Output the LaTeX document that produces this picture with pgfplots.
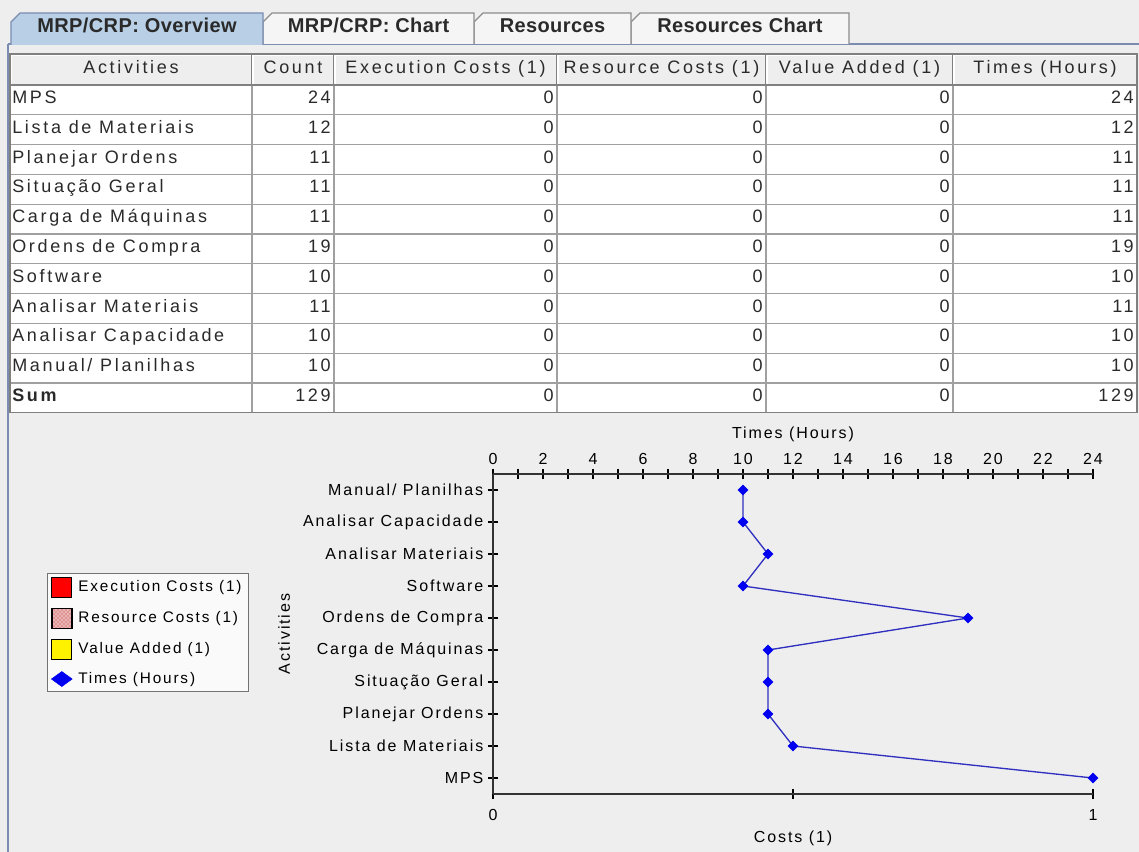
\documentclass[border=0pt]{standalone}
\usepackage{fontspec}
\setmainfont{Liberation Sans}
\newfontfamily\chartfont[LetterSpace=12]{Liberation Sans}
\newfontfamily\tablefont[LetterSpace=15]{Liberation Sans}
\newfontfamily\tabfont[LetterSpace=2]{Liberation Sans}
\usepackage{pgfplots}
\pgfplotsset{compat=1.18}
\usetikzlibrary{patterns}
\definecolor{panel}{HTML}{EEEEEE}
\definecolor{seltab}{HTML}{B8CFE5}
\definecolor{selborder}{HTML}{7A8DB0}
\definecolor{tabborder}{HTML}{8C8C8C}
\definecolor{gridc}{HTML}{A0A0A0}
\definecolor{hdrdark}{HTML}{808080}
\definecolor{linecol}{HTML}{3030C0}
\definecolor{markcol}{HTML}{0000F0}
\definecolor{txt}{HTML}{2A2A2A}
\definecolor{respink}{RGB}{235,180,180}
\definecolor{resdot}{RGB}{190,50,50}
\newcommand\cf{\chartfont\fontsize{12pt}{14pt}\selectfont}
\newcommand\lf{\chartfont\fontsize{11.5pt}{13pt}\selectfont}
\newcommand\tf{\tablefont\fontsize{13.5pt}{15pt}\selectfont}
\newcommand\tabf{\tabfont\bfseries\fontsize{15pt}{17pt}\selectfont}
\newcommand\manual{Manual/ Planilhas}
\pgfplotsset{
  legexec/.style={legend image code/.code={\draw[fill=red, draw=black, line width=0.8pt] (0pt,-7.5pt) rectangle (15pt,7.5pt);}},
  legres/.style={legend image code/.code={\fill[respink] (0pt,-7.5pt) rectangle (15pt,7.5pt); \fill[pattern=crosshatch dots, pattern color=resdot] (0pt,-7.5pt) rectangle (15pt,7.5pt); \draw[black, line width=0.8pt] (0pt,-7.5pt) rectangle (15pt,7.5pt);}},
  legval/.style={legend image code/.code={\draw[fill=yellow, draw=black, line width=0.8pt] (0pt,-7.5pt) rectangle (15pt,7.5pt);}},
  legtime/.style={legend image code/.code={\draw[markcol, mark=diamond*, mark size=5.6pt, mark options={xscale=1.85, fill=markcol}] plot coordinates {(7.5pt,0pt)};}},
}
\begin{document}
\begin{tikzpicture}
\begin{scope}[x=0.75pt,y=-0.75pt]
\fill[panel] (0,0) rectangle (1139,852);
% content border
\draw[selborder, line width=1.5pt] (8,44) -- (1139,44);
\draw[selborder, line width=1.5pt] (8,44) -- (8,852);
% tabs (unselected)
\foreach \xa/\xb in {631/849, 474/631, 263/474}{
  \filldraw[fill=white!96!black, draw=tabborder, line width=0.8pt] (\xa,44) -- (\xa,22) -- (\xa+9,13) -- (\xb,13) -- (\xb,44);
}
% selected tab
\filldraw[fill=seltab, draw=selborder, line width=1pt] (11,45) -- (11,22) -- (20,13) -- (263,13) -- (263,45);
\node[font=\tabf, text=txt, anchor=mid] at (137,29) {MRP/CRP: Overview};
\node[font=\tabf, text=txt, anchor=mid] at (368.5,29) {MRP/CRP: Chart};
\node[font=\tabf, text=txt, anchor=mid] at (552.5,29) {Resources};
\node[font=\tabf, text=txt, anchor=mid] at (740,29) {Resources Chart};
% table
\fill[white] (10,85) rectangle (1137,412.8);
\fill[panel] (10,54) rectangle (1137,85);
\foreach \i in {1,...,10} \draw[gridc, line width=0.8pt] (10,85+\i*29.8) -- (1137,85+\i*29.8);
\foreach \x in {252,334,557,766,953} \draw[gridc, line width=0.8pt] (\x,85) -- (\x,412.8);
% header cell borders
\foreach \xa/\xb in {10/252,252/334,334/557,557/766,766/953,953/1137}{
  \draw[white, line width=0.8pt] (\xa+1,84) -- (\xa+1,55) -- (\xb-1,55);
  \draw[hdrdark, line width=0.8pt] (\xa,85) -- (\xb,85) (\xb,54) -- (\xb,85);
}
\draw[hdrdark, line width=0.8pt] (10,54) rectangle (1137,412.8);
\node[font=\tf, text=txt, anchor=mid] at (131,69.5) {Activities};
\node[font=\tf, text=txt, anchor=mid] at (293,69.5) {Count};
\node[font=\tf, text=txt, anchor=mid] at (445.5,69.5) {Execution Costs (1)};
\node[font=\tf, text=txt, anchor=mid] at (661.5,69.5) {Resource Costs (1)};
\node[font=\tf, text=txt, anchor=mid] at (859.5,69.5) {Value Added (1)};
\node[font=\tf, text=txt, anchor=mid] at (1045,69.5) {Times (Hours)};
\foreach \a/\c/\t [count=\i from 0] in {MPS/24/24, Lista de Materiais/12/12, Planejar Ordens/11/11, Situação Geral/11/11, Carga de Máquinas/11/11, Ordens de Compra/19/19, Software/10/10, Analisar Materiais/11/11, Analisar Capacidade/10/10, \manual/10/10}{
  \pgfmathsetmacro\yy{100+29.8*\i}
  \node[font=\tf, text=txt, anchor=mid west, inner sep=0pt] at (12,\yy) {\a};
  \node[font=\tf, text=txt, anchor=mid east, inner sep=0pt] at (331,\yy) {\c};
  \foreach \xx in {554,763,950} \node[font=\tf, text=txt, anchor=mid east, inner sep=0pt] at (\xx,\yy) {0};
  \node[font=\tf, text=txt, anchor=mid east, inner sep=0pt] at (1134,\yy) {\t};
}
\pgfmathsetmacro\yy{100+29.8*10}
\node[font=\tf\bfseries, text=txt, anchor=mid west, inner sep=0pt] at (12,\yy) {Sum};
\node[font=\tf, text=txt, anchor=mid east, inner sep=0pt] at (331,\yy) {129};
\foreach \xx in {554,763,950} \node[font=\tf, text=txt, anchor=mid east, inner sep=0pt] at (\xx,\yy) {0};
\node[font=\tf, text=txt, anchor=mid east, inner sep=0pt] at (1134,\yy) {129};
\end{scope}

% Costs axis (bottom) with legend
\begin{axis}[
  at={(369.75pt,-595.5pt)}, anchor=south west,
  scale only axis, width=450pt, height=240pt,
  xmin=0, xmax=1, ymin=-0.5, ymax=9.5,
  axis x line*=bottom, axis y line=none,
  axis line style={-, draw=black!80, line width=1.4pt},
  xtick={0,0.5,1}, xticklabels={0,,1},
  tick align=center, major tick length=7.5pt,
  every tick/.style={black, line width=0.9pt},
  xticklabel style={font=\cf, text=black, yshift=-4pt},
  xlabel={Costs (1)},
  xlabel style={font=\cf, at={(axis description cs:0.5,-0.1375)}, anchor=center},
  legend style={at={(axis description cs:-0.7433,0.6906)}, anchor=north west,
    draw=black!55, fill=white!98!black, font=\lf, text=black,
    inner xsep=3pt, inner ysep=2.5pt, row sep=7.5pt,
    /tikz/every odd column/.append style={column sep=2.5pt}},
  legend cell align=left,
  clip=false,
]
\addlegendimage{legexec}
\addlegendentry{Execution Costs (1)}
\addlegendimage{legres}
\addlegendentry{Resource Costs (1)}
\addlegendimage{legval}
\addlegendentry{Value Added (1)}
\addlegendimage{legtime}
\addlegendentry{Times (Hours)}
\end{axis}

% Times axis (top) with data
\begin{axis}[
  at={(369.75pt,-595.5pt)}, anchor=south west,
  scale only axis, width=450pt, height=240pt,
  xmin=0, xmax=24, ymin=-0.5, ymax=9.5,
  axis x line*=top, axis y line*=left,
  axis line style={-, draw=black!80, line width=1.4pt},
  xtick={0,2,...,24}, minor xtick={1,3,...,23},
  ytick={0,...,9},
  yticklabels={MPS,Lista de Materiais,Planejar Ordens,Situação Geral,Carga de Máquinas,Ordens de Compra,Software,Analisar Materiais,Analisar Capacidade,Manual/ Planilhas},
  tick align=center, major tick length=7.5pt, minor tick length=7.5pt,
  every tick/.style={black, line width=0.9pt},
  /pgf/number format/assume math mode=true,
  ticklabel style={font=\cf, text=black},
  xlabel={Times (Hours)},
  xlabel style={font=\cf, at={(axis description cs:0.5,1.125)}, anchor=center},
  ylabel={Activities},
  ylabel style={font=\cf, at={(axis description cs:-0.348,0.5)}, anchor=center},
  clip=false,
]
\addplot[color=linecol, line width=1pt, mark=diamond*, mark size=3.4pt,
  mark options={fill=markcol, draw=markcol, xscale=1.3}]
  coordinates {(24,0) (12,1) (11,2) (11,3) (11,4) (19,5) (10,6) (11,7) (10,8) (10,9)};
\end{axis}
\pgfresetboundingbox
\useasboundingbox (0,0) rectangle (854.25pt,-639pt);
\end{tikzpicture}
\end{document}
